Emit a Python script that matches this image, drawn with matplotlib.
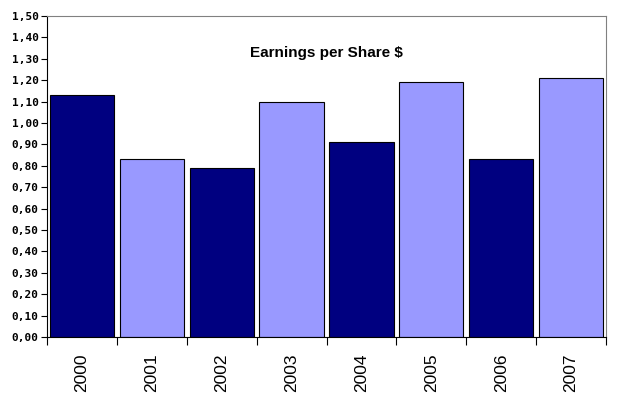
import matplotlib
matplotlib.use('Agg')
import matplotlib.pyplot as plt
import numpy as np

years = ['2000', '2001', '2002', '2003', '2004', '2005', '2006', '2007']
eps = [1.13, 0.83, 0.79, 1.10, 0.91, 1.19, 0.83, 1.21]
colors = ['#000080', '#9999FF', '#000080', '#9999FF', '#000080', '#9999FF', '#000080', '#9999FF']
yticks = np.arange(0, 1.51, 0.1)

fig = plt.figure(figsize=(6.2, 3.99), dpi=100)
ax = fig.add_axes([47/620, 1-337/399, 559/620, 321/399])

x = np.arange(len(years))
ax.bar(x, eps, width=0.92, color=colors, edgecolor='black', linewidth=0.8)

ax.set_xlim(-0.5, len(years) - 0.5)
ax.set_ylim(0, 1.5)
ax.set_yticks(yticks)
ax.set_yticklabels([('%.2f' % v).replace('.', ',') for v in yticks],
                   family='DejaVu Sans Mono', fontweight='bold', fontsize=8)
ax.tick_params(axis='y', length=4, width=0.8, pad=2)

# category ticks sit on the boundaries, labels in the middle
ax.set_xticks(np.arange(-0.5, len(years)), minor=False)
ax.set_xticklabels([])
ax.set_xticks(x, minor=True)
ax.set_xticklabels(years, minor=True, rotation=90, family='Liberation Sans', fontsize=12.5)
ax.tick_params(axis='x', which='major', length=6, width=0.8)
ax.tick_params(axis='x', which='minor', length=0, pad=12)

ax.spines['top'].set_color('#808080')
ax.spines['right'].set_color('#808080')

ax.text(0.5, 0.885, 'Earnings per Share $', transform=ax.transAxes, ha='center', va='center',
        family='Liberation Sans', fontweight='bold', fontsize=11)

fig.savefig('out.png', dpi=100)
